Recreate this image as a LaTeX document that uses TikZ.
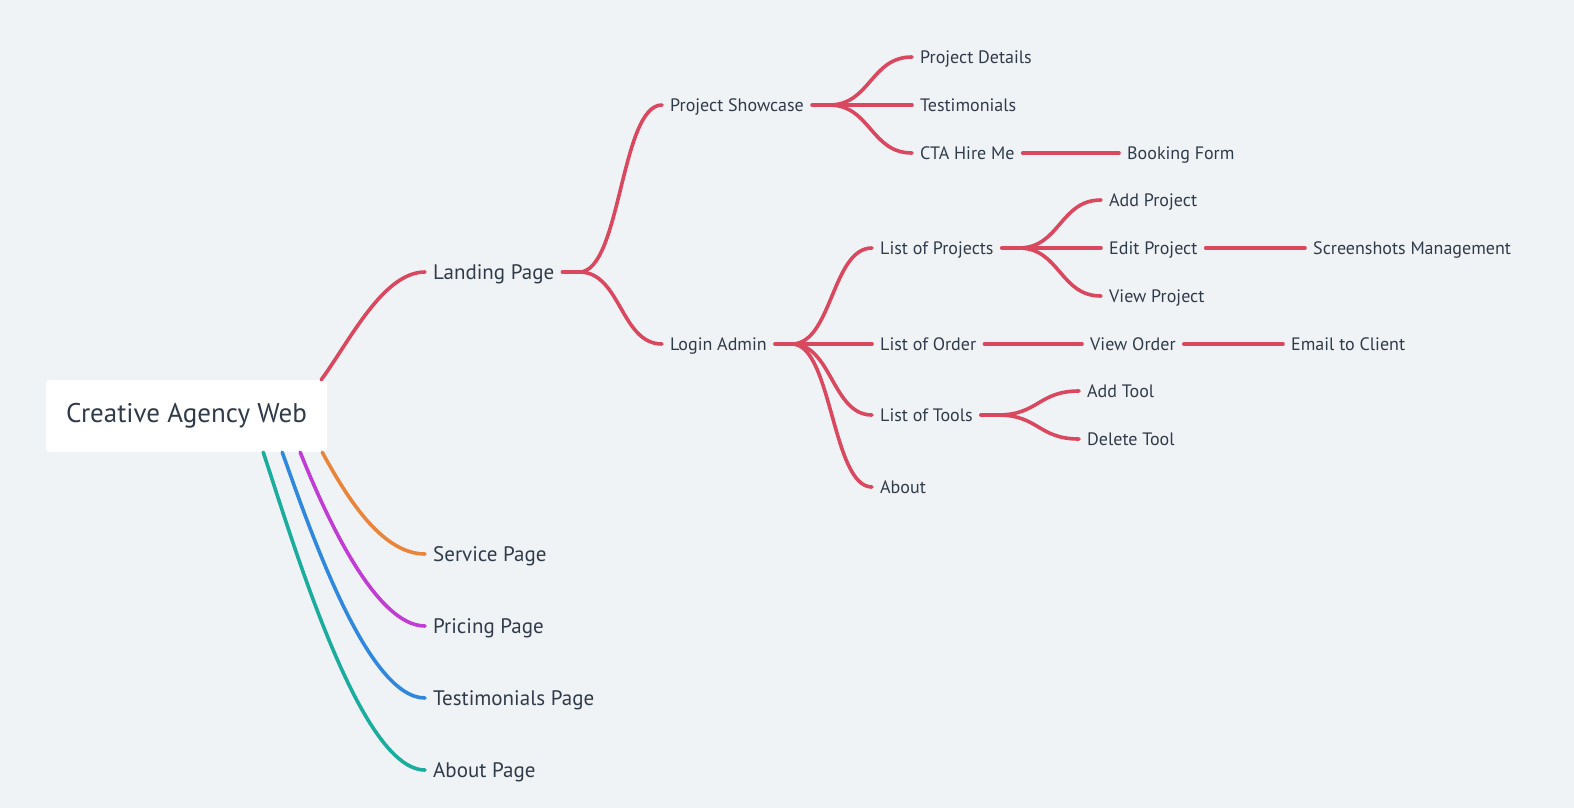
\documentclass[tikz,border=0pt]{standalone}
\usepackage{fontspec}
\setmainfont{PT Sans}
\usetikzlibrary{calc}
\definecolor{bgcol}{RGB}{240,243,246}
\definecolor{inkcol}{RGB}{48,59,74}
\definecolor{redcol}{RGB}{217,72,94}
\definecolor{orangecol}{RGB}{232,133,58}
\definecolor{purplecol}{RGB}{192,60,212}
\definecolor{bluecol}{RGB}{47,136,222}
\definecolor{tealcol}{RGB}{26,172,156}
\tikzset{leaf/.style={anchor=west,inner xsep=8pt,inner ysep=0pt,text height=12.4pt,text depth=0pt,
    text=inkcol,font=\fontsize{18}{21}\selectfont},
  page/.style={leaf,text height=14.4pt,font=\fontsize{21}{25}\selectfont},
  wire/.style={line width=3.6pt,line cap=round,draw=redcol},
  curvy/.style={to path={let \p1=(\tikztostart), \p2=(\tikztotarget), \p3=($(\p1)!0.5!(\p2)$) in .. controls (\x3,\y1) and (\x3,\y2) .. (\p2)}}}

\begin{document}
\begin{tikzpicture}[x=1pt,y=-1pt]
    \fill[bgcol] (0,0) rectangle (1574,808);
    \useasboundingbox (0,0) rectangle (1574,808);

    % root and the pages
    \node[fill=white,rounded corners=4pt,minimum width=281pt,minimum height=72pt,text=inkcol,
        font=\fontsize{27}{31}\selectfont] (root) at (186.5,416) {Creative Agency Web};
    \foreach \n/\y/\t in {land/272/Landing Page,service/554/Service Page,pricing/626/Pricing Page,
        testp/698/Testimonials Page,aboutp/770/About Page}{
        \node[page] (\n) at (425,\y) {\t};
    }

    % sub pages
    \foreach \n/\x/\y/\t in {show/662/105/Project Showcase,login/662/344/Login Admin,
        pdet/912/57/Project Details,testi/912/105/Testimonials,cta/912/153/CTA Hire Me,
        book/1119/153/Booking Form,lproj/872/248/List of Projects,lorder/872/344/List of Order,
        ltools/872/415/List of Tools,about/872/487/About,addp/1101/200/Add Project,
        editp/1101/248/Edit Project,viewp/1101/296/View Project,shots/1305/248/Screenshots Management,
        vorder/1082/344/View Order,email/1283/344/Email to Client,addt/1079/391/Add Tool,
        delt/1079/439/Delete Tool}{
        \node[leaf] (\n) at (\x,\y) {\t};
    }

    % branches out of the root
    \draw[wire] ([xshift=-6pt]root.north east) .. controls +(28,-38) and +(-42,0) .. (land.west);
    \foreach \s/\n/\c/\a/\b/\d in {-5/service/orangecol/22/40/45,-27/pricing/purplecol/24/60/50,
        -45/testp/bluecol/27/75/58,-64/aboutp/tealcol/30/90/65}{
        \draw[wire,draw=\c] ([xshift=\s pt]root.south east) .. controls +(\a,\b) and +(-\d,0) .. (\n.west);
    }

    % forks
    \foreach \p in {land,show,login,lproj,ltools}{
        \coordinate (j\p) at ([xshift=17pt]\p.east);
        \draw[wire] (\p.east) -- (j\p);
    }
    \foreach \p/\c in {land/show,land/login,show/pdet,show/testi,show/cta,login/lproj,login/lorder,
        login/ltools,login/about,lproj/addp,lproj/editp,lproj/viewp,ltools/addt,ltools/delt}{
        \draw[wire] (j\p) to[curvy] (\c.west);
    }
    \foreach \x/\y in {cta/book,editp/shots,lorder/vorder,vorder/email}{
        \draw[wire] (\x.east) -- (\y.west);
    }
\end{tikzpicture}
\end{document}
